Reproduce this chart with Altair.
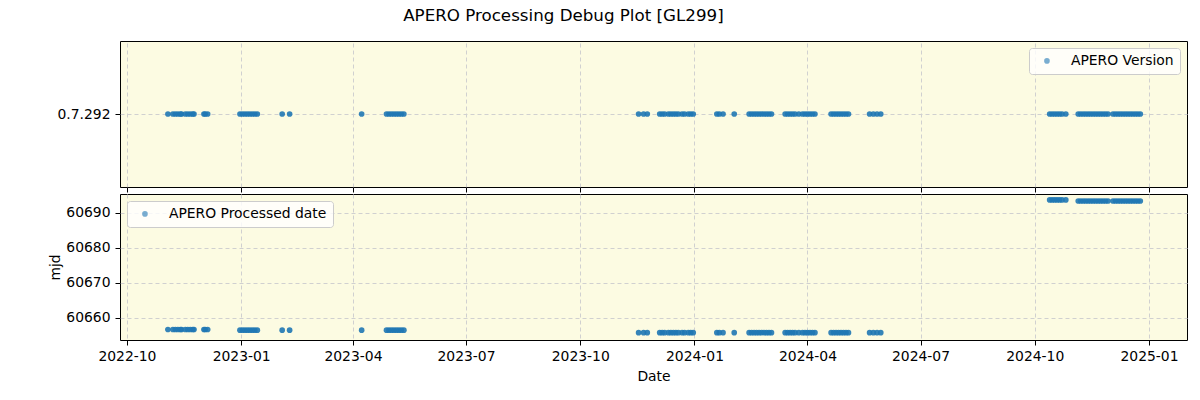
import altair as alt
import pandas as pd

obs_dates = [
    "2022-11-03",
    "2022-11-07", "2022-11-09", "2022-11-11", "2022-11-13", "2022-11-14",
    "2022-11-17", "2022-11-19", "2022-11-21", "2022-11-23", "2022-11-24",
    "2022-12-02", "2022-12-03", "2022-12-05",
    "2022-12-31", "2023-01-02", "2023-01-04", "2023-01-06", "2023-01-08", "2023-01-10", "2023-01-12", "2023-01-14",
    "2023-02-03", "2023-02-09",
    "2023-04-08",
    "2023-04-28", "2023-04-30", "2023-05-02", "2023-05-04", "2023-05-06", "2023-05-08", "2023-05-10", "2023-05-12",
    "2023-11-17", "2023-11-21", "2023-11-24",
    "2023-12-04", "2023-12-06", "2023-12-08", "2023-12-11", "2023-12-13", "2023-12-15", "2023-12-17", "2023-12-19",
    "2023-12-22", "2023-12-24", "2023-12-27", "2023-12-29", "2023-12-31",
    "2024-01-19", "2024-01-21", "2024-01-24",
    "2024-02-02",
    "2024-02-14", "2024-02-16", "2024-02-18", "2024-02-20", "2024-02-22", "2024-02-24", "2024-02-26", "2024-02-28", "2024-03-01", "2024-03-03",
    "2024-03-14", "2024-03-16", "2024-03-18", "2024-03-20", "2024-03-22", "2024-03-25",
    "2024-03-28", "2024-03-30", "2024-04-01", "2024-04-03", "2024-04-05", "2024-04-07",
    "2024-04-20", "2024-04-22", "2024-04-24", "2024-04-26", "2024-04-28", "2024-04-30", "2024-05-02", "2024-05-04",
    "2024-05-21", "2024-05-24", "2024-05-27", "2024-05-30",
    "2024-10-13", "2024-10-15", "2024-10-17", "2024-10-19", "2024-10-21", "2024-10-23", "2024-10-26",
    "2024-11-05", "2024-11-07", "2024-11-09", "2024-11-11", "2024-11-13", "2024-11-15", "2024-11-17",
    "2024-11-19", "2024-11-21", "2024-11-23", "2024-11-25", "2024-11-27", "2024-11-29",
    "2024-12-03", "2024-12-05", "2024-12-07", "2024-12-09", "2024-12-11", "2024-12-13", "2024-12-15",
    "2024-12-17", "2024-12-19", "2024-12-21", "2024-12-23", "2024-12-25",
]

# Processed MJD for each observation
proc_mjd = (
    [60656.6] * 14
    + [60656.4] * 19
    + [60655.7] * 54
    + [60693.6] * 7
    + [60693.3] * 25
)

apero_version = ["0.7.292"] * len(obs_dates)

df = pd.DataFrame({
    "date": obs_dates,
    "version": apero_version,
    "mjd": proc_mjd,
    "s1": "APERO Version",
    "s2": "APERO Processed date",
})

tick_dates = [
    alt.DateTime(year=2022, month=10, date=1, utc=True),
    alt.DateTime(year=2023, month=1, date=1, utc=True),
    alt.DateTime(year=2023, month=4, date=1, utc=True),
    alt.DateTime(year=2023, month=7, date=1, utc=True),
    alt.DateTime(year=2023, month=10, date=1, utc=True),
    alt.DateTime(year=2024, month=1, date=1, utc=True),
    alt.DateTime(year=2024, month=4, date=1, utc=True),
    alt.DateTime(year=2024, month=7, date=1, utc=True),
    alt.DateTime(year=2024, month=10, date=1, utc=True),
    alt.DateTime(year=2025, month=1, date=1, utc=True),
]
x_domain = [
    alt.DateTime(year=2022, month=9, date=25, hours=10, utc=True),
    alt.DateTime(year=2025, month=1, date=31, hours=14, utc=True),
]

W, H = 1067, 146
BLUE = "#1f77b4"

legend_common = dict(
    title=None, offset=7, fillColor="rgba(255,255,255,0.8)", strokeColor="#cccccc",
    cornerRadius=3, padding=6, symbolType="circle", symbolSize=32, symbolOpacity=0.6,
    symbolOffset=5, labelOffset=17, symbolStrokeWidth=0,
    labelFont="DejaVu Sans", labelFontSize=13.9, labelColor="black",
)

top = alt.Chart(df).mark_circle(size=32, opacity=0.9).encode(
    x=alt.X("date:T", scale=alt.Scale(type="utc", domain=x_domain, nice=False),
            axis=alt.Axis(values=tick_dates, labels=False, title=None, grid=True)),
    y=alt.Y("version:N", scale=alt.Scale(type="point"),
            axis=alt.Axis(title=None, grid=True)),
    color=alt.Color("s1:N", scale=alt.Scale(range=[BLUE]),
                    legend=alt.Legend(orient="top-right", **legend_common)),
).properties(width=W, height=H)

bottom = alt.Chart(df).mark_circle(size=32, opacity=0.9).encode(
    x=alt.X("date:T", scale=alt.Scale(type="utc", domain=x_domain, nice=False),
            axis=alt.Axis(values=tick_dates, labelExpr="utcFormat(datum.value, '%Y-%m')",
                          title="Date", grid=True)),
    y=alt.Y("mjd:Q", scale=alt.Scale(domain=[60653.6, 60695.3], nice=False, zero=False),
            axis=alt.Axis(values=[60660, 60670, 60680, 60690], format="d",
                          title="mjd", grid=True)),
    color=alt.Color("s2:N", scale=alt.Scale(range=[BLUE]),
                    legend=alt.Legend(orient="top-left", **legend_common)),
).properties(width=W, height=H)

chart = alt.vconcat(top, bottom, spacing=0).resolve_scale(color="independent").properties(
    title=alt.TitleParams("APERO Processing Debug Plot [GL299]", anchor="middle",
                          dx=-54.5, offset=16, font="DejaVu Sans", fontSize=16.7,
                          fontWeight="normal", color="black"),
    padding={"left": 48, "top": 7, "right": 5, "bottom": 0},
).configure_view(
    fill="#fcfbe2", stroke="black", strokeWidth=1,
).configure_axis(
    labelFont="DejaVu Sans", labelFontSize=13.9, labelColor="black",
    titleFont="DejaVu Sans", titleFontSize=13.9, titleFontWeight="normal", titleColor="black",
    tickColor="black", tickSize=5, tickWidth=1, domain=False,
    gridColor="#d0d0d0", gridDash=[4, 3], gridWidth=1,
    labelPadding=4,
).configure_axisY(
    titlePadding=3, labelPadding=5,
).configure_axisX(
    titlePadding=7,
)

chart.save("out.html", embed_options={"renderer": "svg", "actions": False})
